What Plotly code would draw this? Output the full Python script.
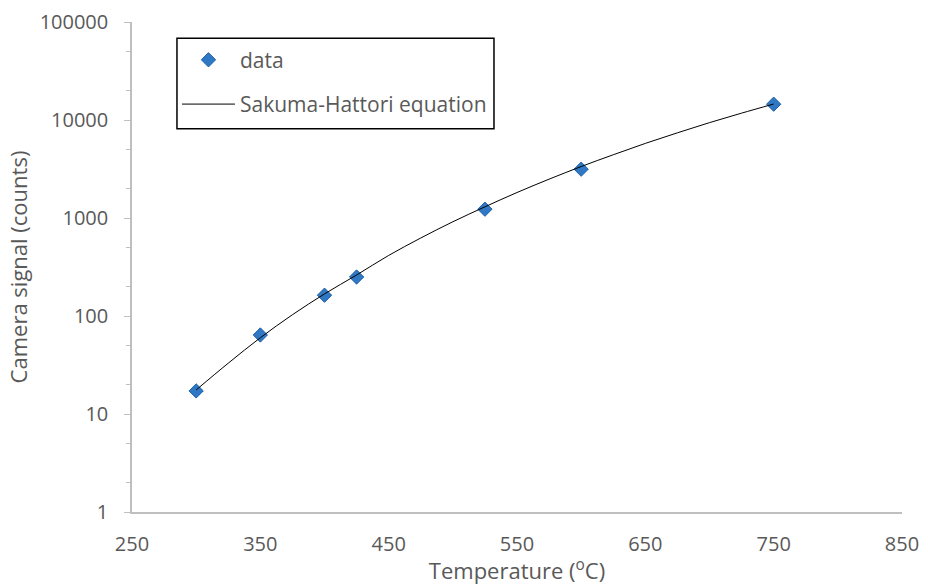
import plotly.graph_objects as go

# Measured data
temp_data = [300, 350, 400, 425, 525, 600, 750]
signal_data = [17.2, 64, 163, 250, 1230, 3150, 14500]

# Sakuma-Hattori curve
temp_fit = [300, 325, 350, 375, 400, 425, 450, 475, 500, 525, 550, 575, 600,
            625, 650, 675, 700, 725, 750]
signal_fit = [17.6, 33, 60, 103, 168, 262, 415, 625, 915, 1300, 1820, 2490, 3350,
              4420, 5770, 7400, 9400, 11750, 14550]

x_ticks = [250, 350, 450, 550, 650, 750, 850]
y_ticks = [1, 10, 100, 1000, 10000, 100000]

FONT = "Open Sans"
GREY = "#595959"

fig = go.Figure()
fig.add_trace(go.Scatter(
    x=temp_data, y=signal_data, mode="markers", name="data", legendgroup="a",
    marker=dict(symbol="diamond", size=11, color="#2f78c4",
                line=dict(color="#1f5fa8", width=1)),
))
fig.add_trace(go.Scatter(
    x=temp_fit, y=signal_fit, mode="lines", name="Sakuma-Hattori equation",
    legendgroup="b",
    line=dict(color="black", width=1, shape="spline"),
))

# legend frame
fig.add_shape(type="rect", xref="paper", yref="paper",
              x0=0.0584, x1=0.4701, y0=0.782, y1=0.967,
              line=dict(color="black", width=1.5), fillcolor="rgba(0,0,0,0)",
              layer="above")

fig.update_layout(
    width=928, height=585,
    margin=dict(l=132, r=26, t=22, b=73),
    paper_bgcolor="white", plot_bgcolor="white",
    font=dict(family=FONT, color=GREY, size=16),
    showlegend=True,
    legend=dict(
        x=0.0584, y=0.964, xanchor="left", yanchor="top",
        borderwidth=0, bgcolor="rgba(0,0,0,0)",
        font=dict(size=21, color=GREY, family=FONT),
        tracegroupgap=14, itemwidth=53,
    ),
    xaxis=dict(
        range=[250, 850], tickvals=x_ticks, ticktext=[str(v) for v in x_ticks],
        showgrid=False, zeroline=False, showline=True, linecolor="#bfbfbf",
        linewidth=1.5, ticks="", tickfont=dict(size=20, color=GREY),
        ticklabelstandoff=13, automargin=False,
        title=dict(text="Temperature (<sup>o</sup>C)", font=dict(size=22, color=GREY),
                   standoff=6),
    ),
    yaxis=dict(
        type="log", range=[0, 5], tickvals=y_ticks, ticktext=[str(v) for v in y_ticks],
        showgrid=False, zeroline=False, showline=True, linecolor="#bfbfbf",
        linewidth=1.5, ticks="outside", ticklen=6, tickcolor="#bfbfbf",
        minor=dict(ticks="outside", ticklen=4, tickcolor="#bfbfbf", showgrid=False),
        tickfont=dict(size=20, color=GREY), ticklabelstandoff=12, automargin=False,
        title=dict(text="Camera signal (counts)", font=dict(size=22, color=GREY),
                   standoff=6),
    ),
)

fig.write_html("out.html")
